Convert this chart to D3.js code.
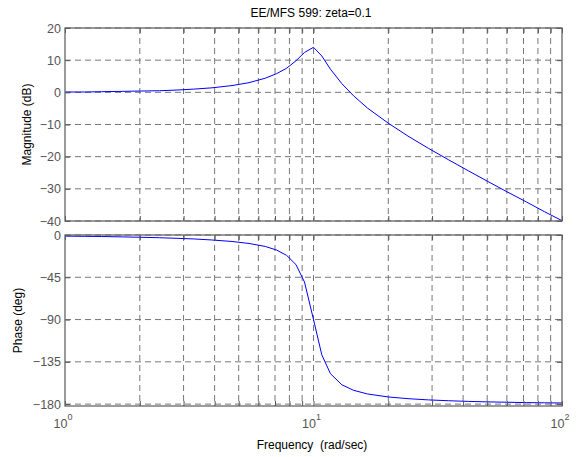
<!DOCTYPE html>
<html>
<head>
<meta charset="utf-8">
<script src="https://cdn.jsdelivr.net/npm/d3@7"></script>
<style>
  body { margin: 0; background: #fff; }
  svg { font-family: "Liberation Sans", Arial, sans-serif; }
</style>
</head>
<body>
<svg width="577" height="457"></svg>
<script>
// frequencies (rad/sec)
const freq = [1, 1.2, 1.4, 1.7, 2, 2.4, 2.8, 3.3, 3.9, 4.7, 5.5, 6.4, 7.1, 7.8, 8.5, 9.2, 10,
  10.8, 11.7, 13, 14.5, 16.5, 20, 24, 29, 35, 42, 50, 60, 72, 85, 100];
const magDb = [0.1, 0.1, 0.2, 0.3, 0.4, 0.5, 0.7, 1.0, 1.4, 2.1, 3.0, 4.4, 5.8, 7.5, 9.8, 12.4, 14.0,
  11.3, 7.2, 2.7, -1.1, -4.9, -9.6, -13.6, -17.4, -21.0, -24.4, -27.6, -30.9, -34.1, -37.1, -39.9];
const phaseDeg = [-1.2, -1.4, -1.6, -2.0, -2.4, -2.9, -3.5, -4.2, -5.3, -6.9, -9.0, -12.2, -16.0, -21.7, -31.5, -50.1, -90,
  -127.6, -147.6, -159.4, -165.3, -169.2, -172.4, -174.2, -175.5, -176.4, -177.1, -177.6, -178.0, -178.4, -178.6, -178.8];

const magTicks = [20, 10, 0, -10, -20, -30, -40];
const phaseTicks = [0, -45, -90, -135, -180];
const freqMajor = [1, 10, 100];

const svg = d3.select("svg");
const left = 65, right = 562;

let x = d3.scaleLog().domain([1, 100]).range([left, right]);
let yMag = d3.scaleLinear().domain([-40, 20]).range([221, 28]);
let yPh = d3.scaleLinear().domain([-182, 0]).range([406, 235]);

// all grid positions on the log axis: 1..9, 10..90, 100
let gridX = [];
[1, 10].forEach(function (dec) {
  for (let k = 1; k < 10; k++) gridX.push(dec * k);
});
gridX.push(100);

function panel(y, ticks, data, label, labelX) {
  let g = svg.append("g");
  let top = y.range()[1], bottom = y.range()[0];

  // dashed grid
  g.selectAll(".gx").data(gridX.slice(1, -1)).enter().append("line")
    .attr("x1", d => x(d)).attr("x2", d => x(d))
    .attr("y1", top).attr("y2", bottom)
    .attr("stroke", "#777").attr("stroke-dasharray", "6,4");
  g.selectAll(".gy").data(ticks).enter().append("line")
    .attr("x1", left).attr("x2", right)
    .attr("y1", d => y(d)).attr("y2", d => y(d))
    .attr("stroke", "#777").attr("stroke-dasharray", "6,4");

  // curve
  g.append("path")
    .datum(freq.map((f, i) => [f, data[i]]))
    .attr("fill", "none").attr("stroke", "#0000ff").attr("stroke-width", 1)
    .attr("d", d3.line().x(d => x(d[0])).y(d => y(d[1])));

  // y axes, ticks inside
  let yl = g.append("g").attr("transform", "translate(" + left + ",0)")
    .call(d3.axisLeft(y).tickValues(ticks).tickSize(-5).tickPadding(4));
  let yr = g.append("g").attr("transform", "translate(" + right + ",0)")
    .call(d3.axisRight(y).tickValues(ticks).tickSize(-5).tickFormat(""));
  // x ticks inside, top and bottom
  let xb = g.append("g").attr("transform", "translate(0," + bottom + ")")
    .call(d3.axisBottom(x).tickValues(gridX).tickSize(-5).tickFormat(""));
  let xt = g.append("g").attr("transform", "translate(0," + top + ")")
    .call(d3.axisTop(x).tickValues(gridX).tickSize(-5).tickFormat(""));
  [yl, yr, xb, xt].forEach(a => {
    a.select(".domain").remove();
    a.selectAll("line").attr("stroke", "#555");
  });
  yl.selectAll("text").attr("fill", "#555").attr("font-size", 12.5)
    .style("font-family", "'Liberation Sans', Arial, sans-serif");

  // box
  g.append("rect").attr("x", left).attr("y", top)
    .attr("width", right - left).attr("height", bottom - top)
    .attr("fill", "none").attr("stroke", "#666").attr("stroke-width", 1.3);

  g.append("text")
    .attr("transform", "translate(" + labelX + "," + (top + bottom) / 2 + ") rotate(-90)")
    .attr("text-anchor", "middle").attr("dy", "0.35em")
    .attr("font-size", 12).attr("fill", "#000")
    .text(label);
}

panel(yMag, magTicks, magDb, "Magnitude (dB)", 27);
panel(yPh, phaseTicks, phaseDeg, "Phase (deg)", 18);

// decade labels 10^n
let xl = svg.append("g").selectAll("text").data(freqMajor).enter().append("text")
  .attr("x", d => x(d) - 2).attr("y", 428)
  .attr("text-anchor", "middle").attr("font-size", 12.5).attr("fill", "#555");
xl.append("tspan").text("10");
xl.append("tspan").attr("dy", -8).attr("font-size", 9).text(d => Math.round(Math.log10(d)));

svg.append("text").attr("x", 312).attr("y", 449).attr("text-anchor", "middle")
  .attr("font-size", 12).attr("fill", "#000").attr("xml:space", "preserve")
  .style("white-space", "pre")
  .text("Frequency  (rad/sec)");

svg.append("text").attr("x", 311).attr("y", 17).attr("text-anchor", "middle")
  .attr("font-size", 12).attr("fill", "#000")
  .text("EE/MFS 599: zeta=0.1");
</script>
</body>
</html>
